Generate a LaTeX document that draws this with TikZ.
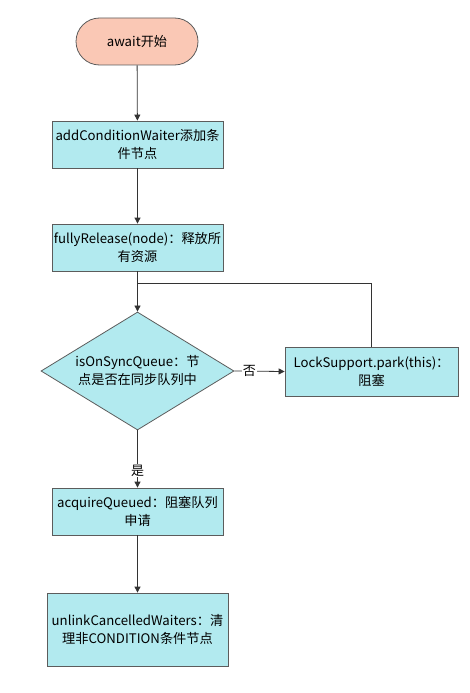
\documentclass[tikz,border=0pt]{standalone}
\usepackage{fontspec}
\setmainfont{Noto Sans CJK SC}
\usetikzlibrary{shapes.geometric,shapes.misc,arrows.meta}
\definecolor{cyanfill}{HTML}{B2EAEF}
\definecolor{salmon}{HTML}{FAC8B5}
\definecolor{edge}{HTML}{333333}
\tikzset{
  base/.style={draw=edge!80, line width=0.8pt, font=\fontsize{13.2}{18}\selectfont, align=center, inner sep=0pt},
  procbox/.style={base, rectangle, fill=cyanfill},
  termbox/.style={base, rounded rectangle, fill=salmon},
  decbox/.style={base, diamond, fill=cyanfill, aspect=1.64},
  conn/.style={draw=edge, line width=0.8pt, -{Triangle[length=6pt,width=6pt]}},
  plain/.style={draw=edge, line width=0.8pt},
  lbl/.style={fill=white, font=\fontsize{13}{14}\selectfont, inner sep=1pt}
}
\begin{document}
\begin{tikzpicture}[x=1pt,y=-1pt]
\useasboundingbox (0,0) rectangle (469,693);
\node[termbox, minimum width=122pt, minimum height=47pt] (start) at (137,41.5) {await开始};
\node[procbox, minimum width=171pt, minimum height=47pt] (add) at (137.5,144.5) {addConditionWaiter添加条\\件节点};
\node[procbox, minimum width=171pt, minimum height=47pt] (rel) at (137.5,247.5) {fullyRelease(node)：释放所\\有资源};
\node[decbox, minimum width=193pt, minimum height=118pt] (dec) at (137.5,371) {isOnSyncQueue：节\\点是否在同步队列中};
\node[procbox, minimum width=173pt, minimum height=49pt] (park) at (371.5,371.5) {LockSupport.park(this)：\\阻塞};
\node[procbox, minimum width=171pt, minimum height=47pt] (acq) at (137.5,511.5) {acquireQueued：阻塞队列\\申请};
\node[procbox, minimum width=181pt, minimum height=73pt] (unl) at (137.5,629.5) {unlinkCancelledWaiters：清\\理非CONDITION条件节点};
\coordinate (merge) at (137.5,283);
\coordinate (corner) at (371.5,283);
\draw[conn] (start) -- (add);
\draw[conn] (add) -- (rel);
\draw[conn] (rel) -- (dec);
\draw[plain] (park.north) -- (corner) -- (merge);
\draw[conn] (dec.east) -- node[lbl, pos=0.3] (no) {否} (park.west);
\draw[conn] (dec.south) -- node[lbl, pos=0.7] (yes) {是} (acq.north);
\draw[conn] (acq) -- (unl);
\end{tikzpicture}
\end{document}
